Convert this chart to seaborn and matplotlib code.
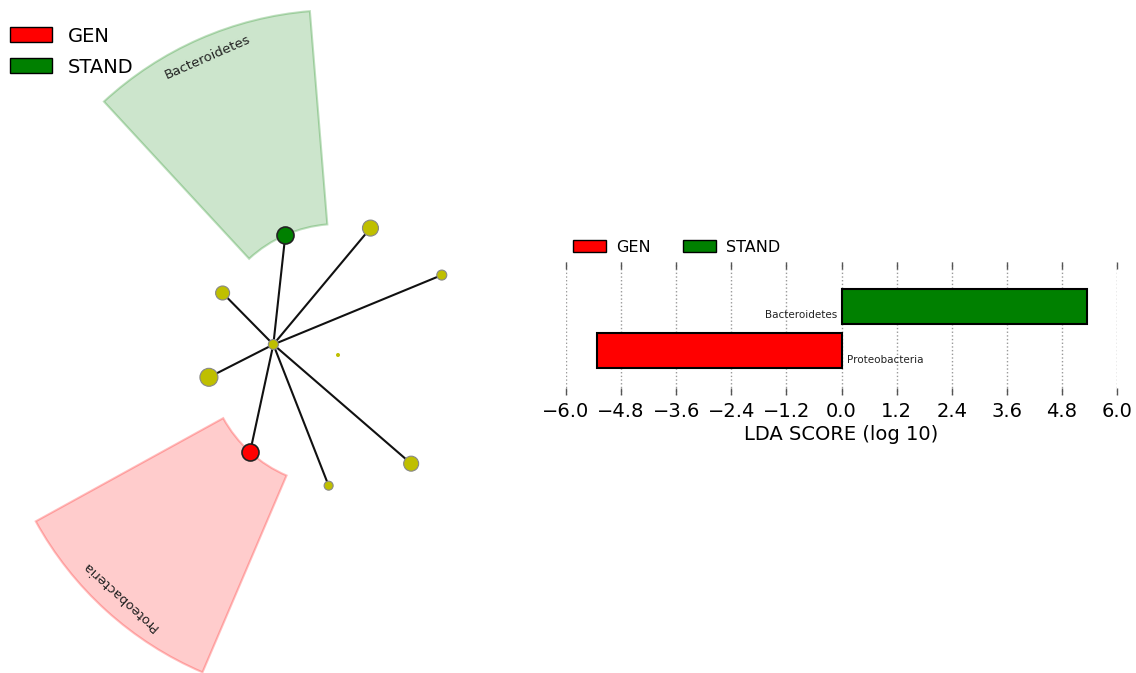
import numpy as np
import pandas as pd
import matplotlib
matplotlib.use("Agg")
import matplotlib.pyplot as plt
import seaborn as sns
from matplotlib.patches import Wedge, Patch

# ---- LDA effect sizes ----
taxa = ["Bacteroidetes", "Proteobacteria"]
lda_scores = [5.35, -5.33]
taxa_class = ["STAND", "GEN"]
classes = ["GEN", "STAND"]
class_colors = {"GEN": "#ff0000", "STAND": "#008000", "none": "#bfbf00"}
lda_ticks = [-6.0, -4.8, -3.6, -2.4, -1.2, 0.0, 1.2, 2.4, 3.6, 4.8, 6.0]

# ---- cladogram: phylum level nodes in layout order ----
phylum_labels = ["", "", "Bacteroidetes", "", "", "Proteobacteria", "", ""]
phylum_class = ["none", "none", "STAND", "none", "none", "GEN", "none", "none"]
phylum_size = [10, 16, 17, 14, 18, 17, 9, 15]
kingdom_size = 10
root_size = 4

# layout constants
LEVEL_R = 65.5
START_ANGLE = 37.6
STEP_ANGLE = 38.05
OUTER_R = 345

sns.set_style("white")
plt.rcParams["font.family"] = ["DejaVu Sans"]
plt.rcParams["text.color"] = "black"
plt.rcParams["axes.labelcolor"] = "black"
plt.rcParams["xtick.labelcolor"] = "black"

fig = plt.figure(figsize=(11.36, 6.73), dpi=100)

# ================= cladogram =================
ax_c = fig.add_axes([0, 0, 676 / 1136, 1])
ax_c.set_xlim(-338, 338)
ax_c.set_ylim(-318, 355)
ax_c.axis("off")

n = len(phylum_labels)
angles = START_ANGLE + STEP_ANGLE * np.arange(n)
phy_r = 2 * LEVEL_R
px = phy_r * np.cos(np.radians(angles))
py = phy_r * np.sin(np.radians(angles))
k_ang = angles.mean()
kx = LEVEL_R * np.cos(np.radians(k_ang))
ky = LEVEL_R * np.sin(np.radians(k_ang))

# highlighted clades
for i, (lab, cl) in enumerate(zip(phylum_labels, phylum_class)):
    if cl == "none":
        continue
    col = class_colors[cl]
    w = Wedge((0, 0), OUTER_R, angles[i] - STEP_ANGLE / 2, angles[i] + STEP_ANGLE / 2,
              width=OUTER_R - phy_r, facecolor=matplotlib.colors.to_rgba(col, 0.2),
              edgecolor=matplotlib.colors.to_rgba(col, 0.25), linewidth=1.5, zorder=1)
    ax_c.add_patch(w)
    tr = OUTER_R - 20
    tx = tr * np.cos(np.radians(angles[i]))
    ty = tr * np.sin(np.radians(angles[i]))
    ax_c.text(tx, ty, lab, rotation=angles[i] - 90, ha="center", va="center",
              fontsize=9.5, color="#222222", rotation_mode="anchor", zorder=5)

# branches
for x, y in zip(px, py):
    ax_c.plot([kx, x], [ky, y], color="#111111", lw=1.5, zorder=2)

nodes = pd.DataFrame({
    "x": list(px) + [kx],
    "y": list(py) + [ky],
    "cls": phylum_class + ["none"],
    "size": [(d * 0.72) ** 2 for d in phylum_size + [kingdom_size]],
})
for cl in ["none", "STAND", "GEN"]:
    sub = nodes[nodes["cls"] == cl]
    sns.scatterplot(data=sub, x="x", y="y", s=sub["size"].values,
                    color=class_colors[cl],
                    edgecolor="#222222" if cl != "none" else "#888888",
                    linewidth=1.2 if cl != "none" else 0.8,
                    ax=ax_c, zorder=4, legend=False)
# root
sns.scatterplot(x=[0.0], y=[0.0], s=(root_size * 0.72) ** 2, color=class_colors["none"],
                edgecolor="none", ax=ax_c, zorder=4, legend=False)
ax_c.set_xlabel("")
ax_c.set_ylabel("")

leg_handles = [Patch(facecolor=class_colors[c], edgecolor="black", label=c) for c in classes]
ax_c.legend(handles=leg_handles, loc="upper left", bbox_to_anchor=(0.0, 0.975),
            frameon=False, fontsize=14, handlelength=2.16, handleheight=0.8,
            labelspacing=0.62, borderaxespad=0.0, borderpad=0.5, handletextpad=0.82)

# ================= LDA bar chart =================
ax_b = fig.add_axes([566 / 1136, 1 - 395 / 673, 551 / 1136, 133 / 673])
lda = pd.DataFrame({"taxon": taxa, "lda": lda_scores, "cls": taxa_class})
sns.barplot(data=lda, x="lda", y="taxon", hue="cls", orient="h", order=taxa,
            hue_order=classes, palette=class_colors, dodge=False, width=0.8,
            saturation=1, edgecolor="black", linewidth=1.5, ax=ax_b, legend=False)
ax_b.set_xlim(-6.0, 6.0)
ax_b.set_ylim(2, -1)
ax_b.set_xticks(lda_ticks)
ax_b.set_xticklabels([f"{t:.1f}".replace("-", "\u2212") for t in lda_ticks], fontsize=14)
ax_b.set_yticks([])
ax_b.set_ylabel("")
ax_b.set_xlabel("LDA SCORE (log 10)", fontsize=14, labelpad=3)
for s in ax_b.spines.values():
    s.set_visible(False)
ax_b.tick_params(axis="x", direction="in", top=True, bottom=True, length=5,
                 width=1, color="#555555", pad=5)
ax_b.xaxis.grid(True, linestyle=":", color="#999999", linewidth=1)
ax_b.set_axisbelow(True)

for i, (t, v) in enumerate(zip(taxa, lda_scores)):
    if v > 0:
        ax_b.text(-0.09, i + 0.2, t, ha="right", va="center", fontsize=7.5, color="#222222")
    else:
        ax_b.text(0.12, i + 0.2, t, ha="left", va="center", fontsize=7.5, color="#222222")

ax_b.legend(handles=leg_handles, loc="lower left", bbox_to_anchor=(0.0, 1.0), ncol=2,
            frameon=False, fontsize=11.5, handlelength=2.07, handleheight=0.75,
            columnspacing=2.0, borderaxespad=0.45, borderpad=0.0, handletextpad=0.63)

fig.savefig("out.png", dpi=100)
